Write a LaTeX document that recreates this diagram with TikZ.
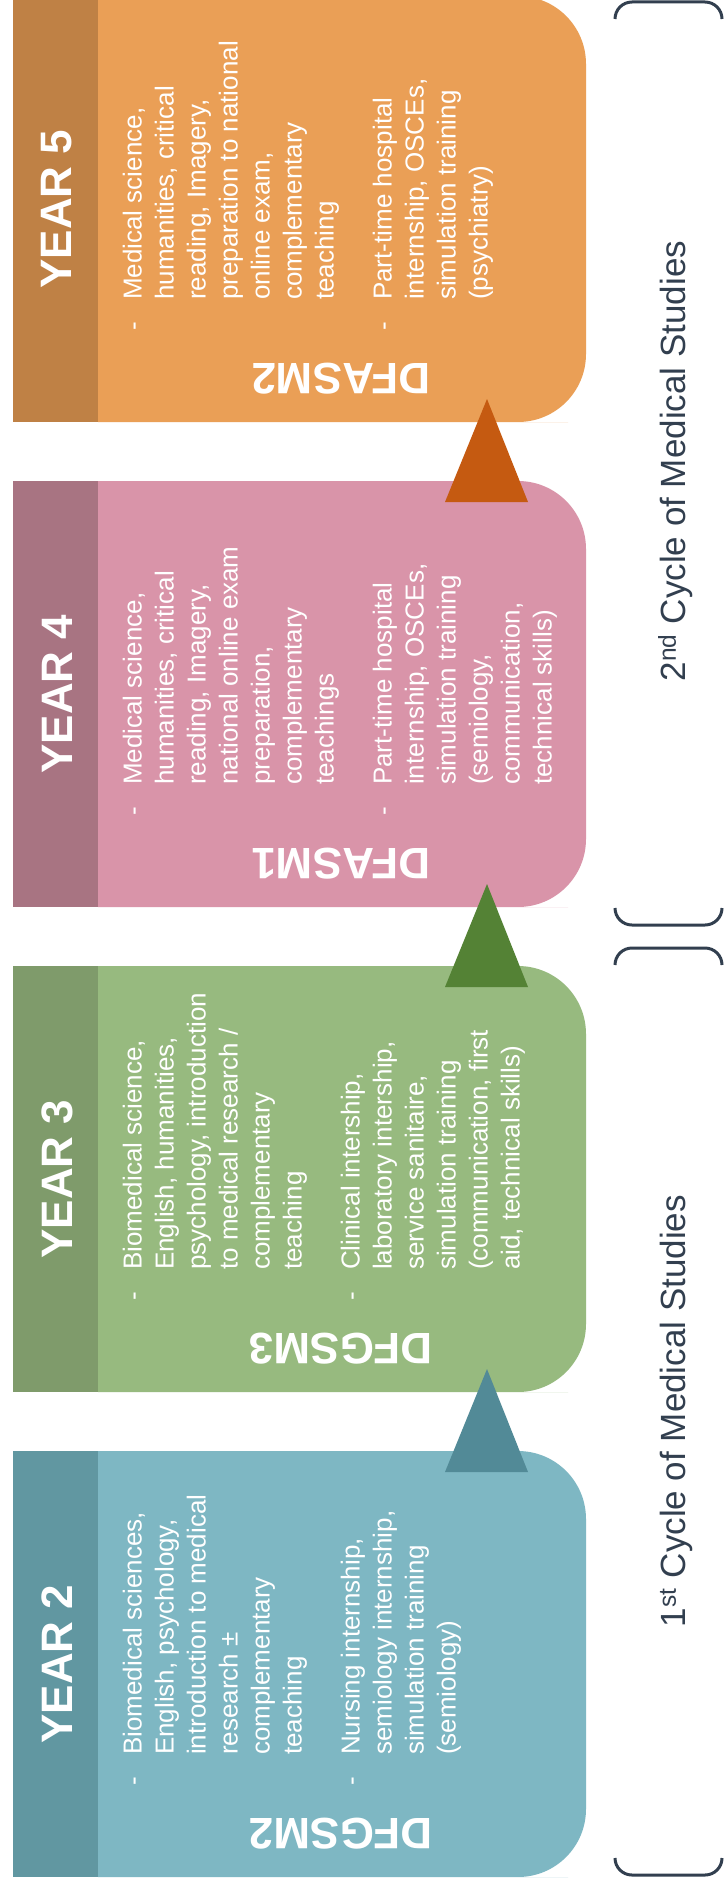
\documentclass[tikz,border=0pt]{standalone}
\usepackage{fontspec}
\setmainfont{Liberation Sans}
\definecolor{ytwod}{HTML}{6197A1}
\definecolor{ytwol}{HTML}{7EB7C3}
\definecolor{ytwot}{HTML}{528A97}
\definecolor{ythreed}{HTML}{7F9B6B}
\definecolor{ythreel}{HTML}{97BA7F}
\definecolor{ythreet}{HTML}{548235}
\definecolor{yfourd}{HTML}{A87482}
\definecolor{yfourl}{HTML}{D994A9}
\definecolor{yfived}{HTML}{BF8145}
\definecolor{yfivel}{HTML}{EA9F56}
\definecolor{yfivet}{HTML}{C55A11}
\definecolor{cycc}{HTML}{323F4F}
\begin{document}
\begin{tikzpicture}[x=1pt,y=-1pt,
  yearlbl/.style={font=\bfseries\fontsize{44}{50}\selectfont, text=white, rotate=90, inner sep=0pt},
  body/.style={font=\fontsize{26}{32}\selectfont, text=white, rotate=90, inner sep=0pt, anchor=base west},
  stagelbl/.style={font=\bfseries\fontsize{44}{50}\selectfont, text=white, rotate=180, inner sep=0pt},
  cyc/.style={font=\fontsize{35}{40}\selectfont, text=cycc, rotate=90, inner sep=0pt, anchor=base},
  capline/.style={draw=cycc, line width=3pt, rounded corners=17pt}]
\useasboundingbox (0,0) rectangle (725,1892);
\clip (0,0) rectangle (725,1892);
\fill[white] (0,0) rectangle (725,1892);

% ---------- boxes ----------
% Year 5
\fill[yfived] (13,-4) rectangle (98,422);
\fill[yfivel] (98,-4) -- (500,-4) [rounded corners=68pt] -- (586,-4) -- (586,422) -- (500,422) [sharp corners] -- (98,422) -- cycle;
% Year 4
\fill[yfourd] (13,481) rectangle (98,907);
\fill[yfourl] (98,481) -- (500,481) [rounded corners=68pt] -- (586,481) -- (586,907) -- (500,907) [sharp corners] -- (98,907) -- cycle;
% Year 3
\fill[ythreed] (13,966) rectangle (98,1392);
\fill[ythreel] (98,966) -- (500,966) [rounded corners=68pt] -- (586,966) -- (586,1392) -- (500,1392) [sharp corners] -- (98,1392) -- cycle;
% Year 2
\fill[ytwod] (13,1451) rectangle (98,1877);
\fill[ytwol] (98,1451) -- (500,1451) [rounded corners=68pt] -- (586,1451) -- (586,1877) -- (500,1877) [sharp corners] -- (98,1877) -- cycle;

% ---------- triangles ----------
\fill[yfivet] (487,399) -- (528,502) -- (445,502) -- cycle;
\fill[ythreet] (487,884) -- (528,987) -- (445,987) -- cycle;
\fill[ytwot] (487,1369) -- (528,1472) -- (445,1472) -- cycle;

% ---------- Year 5 texts ----------
\node[yearlbl] (yfive) at (57,209) {YEAR 5};
\node[body] (yfivea) at (141.5,331) {\begin{tabular}[t]{@{}p{31pt}@{}l@{}}-&Medical science,\\&humanities, critical\\&reading, Imagery,\\&preparation to national\\&online exam,\\&complementary\\&teaching\end{tabular}};
\node[body] (yfiveb) at (391.5,331) {\begin{tabular}[t]{@{}p{31pt}@{}l@{}}-&Part-time hospital\\&internship, OSCEs,\\&simulation training\\&(psychiatry)\end{tabular}};
\node[stagelbl] (dfasmtwo) at (341,379) {DFASM2};

% ---------- Year 4 texts ----------
\node[yearlbl] (yfour) at (57,694) {YEAR 4};
\node[body] (yfoura) at (141.5,816) {\begin{tabular}[t]{@{}p{31pt}@{}l@{}}-&Medical science,\\&humanities, critical\\&reading, Imagery,\\&national online exam\\&preparation,\\&complementary\\&teachings\end{tabular}};
\node[body] (yfourb) at (391.5,816) {\begin{tabular}[t]{@{}p{31pt}@{}l@{}}-&Part-time hospital\\&internship, OSCEs,\\&simulation training\\&(semiology,\\&communication,\\&technical skills)\end{tabular}};
\node[stagelbl] (dfasmone) at (341,864) {DFASM1};

% ---------- Year 3 texts ----------
\node[yearlbl] (ythree) at (57,1179) {YEAR 3};
\node[body] (ythreea) at (141.5,1301) {\begin{tabular}[t]{@{}p{31pt}@{}l@{}}-&Biomedical science,\\&English, humanities,\\&psychology, introduction\\&to medical research /\\&complementary\\&teaching\end{tabular}};
\node[body] (ythreeb) at (359.5,1301) {\begin{tabular}[t]{@{}p{31pt}@{}l@{}}-&Clinical intership,\\&laboratory intership,\\&service sanitaire,\\&simulation training\\&(communication, first\\&aid, technical skills)\end{tabular}};
\node[stagelbl] (dfgsmthree) at (341,1349) {DFGSM3};

% ---------- Year 2 texts ----------
\node[yearlbl] (ytwo) at (57,1664) {YEAR 2};
\node[body] (ytwoa) at (141.5,1786) {\begin{tabular}[t]{@{}p{31pt}@{}l@{}}-&Biomedical sciences,\\&English, psychology,\\&introduction to medical\\&research ±\\&complementary\\&teaching\end{tabular}};
\node[body] (ytwob) at (359.5,1786) {\begin{tabular}[t]{@{}p{31pt}@{}l@{}}-&Nursing internship,\\&semiology internship,\\&simulation training\\&(semiology)\end{tabular}};
\node[stagelbl] (dfgsmtwo) at (341,1834) {DFGSM2};

% ---------- cycle brackets ----------
\draw[capline] (615,19) -- (615,2) -- (722,2) -- (722,19);
\draw[capline] (615,908) -- (615,925) -- (722,925) -- (722,908);
\draw[capline] (615,965) -- (615,948) -- (722,948) -- (722,965);
\draw[capline] (615,1858) -- (615,1875) -- (722,1875) -- (722,1858);
\node[cyc] (cyctwo) at (685,461) {2\textsuperscript{nd} Cycle of Medical Studies};
\node[cyc] (cycone) at (685,1411) {1\textsuperscript{st} Cycle of Medical Studies};
\end{tikzpicture}
\end{document}
